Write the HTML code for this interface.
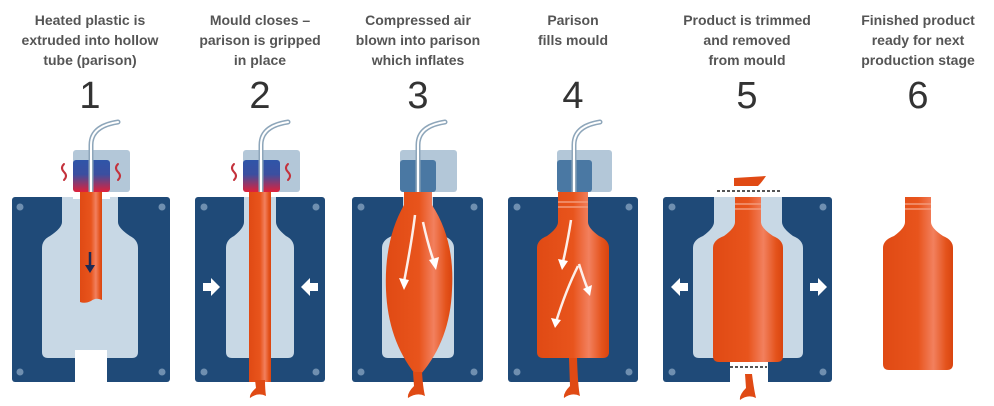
<!DOCTYPE html>
<html><head><meta charset="utf-8"><style>
html,body{margin:0;padding:0;background:#fff;}
svg{display:block;}
text{font-family:"Liberation Sans",sans-serif;fill:#555;}
.t{font-size:14px;font-weight:bold;text-anchor:middle;}
.n{font-size:38px;text-anchor:middle;fill:#333;}
</style></head><body>
<svg width="994" height="406" viewBox="0 0 994 406" xmlns="http://www.w3.org/2000/svg">
<defs>
<linearGradient id="or" x1="0" x2="1" y1="0" y2="0">
<stop offset="0" stop-color="#e04a14"/><stop offset="0.5" stop-color="#e8541c"/><stop offset="0.72" stop-color="#f2805e"/><stop offset="0.9" stop-color="#e4531c"/><stop offset="1" stop-color="#d9440f"/>
</linearGradient>
<linearGradient id="hd" x1="0" x2="0" y1="0" y2="1">
<stop offset="0" stop-color="#2f55a8"/><stop offset="0.45" stop-color="#3b4fa0"/><stop offset="1" stop-color="#e0203a"/>
</linearGradient>
<g id="dots"></g>
</defs>

<!-- titles -->
<g>
<text class="t" x="90" y="25">Heated plastic is</text>
<text class="t" x="90" y="45">extruded into hollow</text>
<text class="t" x="90" y="65">tube (parison)</text>
<text class="t" x="260" y="25">Mould closes –</text>
<text class="t" x="260" y="45">parison is gripped</text>
<text class="t" x="260" y="65">in place</text>
<text class="t" x="418" y="25">Compressed air</text>
<text class="t" x="418" y="45">blown into parison</text>
<text class="t" x="418" y="65">which inflates</text>
<text class="t" x="573" y="25">Parison</text>
<text class="t" x="573" y="45">fills mould</text>
<text class="t" x="747" y="25">Product is trimmed</text>
<text class="t" x="747" y="45">and removed</text>
<text class="t" x="747" y="65">from mould</text>
<text class="t" x="918" y="25">Finished product</text>
<text class="t" x="918" y="45">ready for next</text>
<text class="t" x="918" y="65">production stage</text>
<text class="n" x="90" y="108">1</text>
<text class="n" x="260" y="108">2</text>
<text class="n" x="418" y="108">3</text>
<text class="n" x="573" y="108">4</text>
<text class="n" x="747" y="108">5</text>
<text class="n" x="918" y="108">6</text>
</g>

<!-- nozzles: light boxes -->
<g fill="#b3c7d8">
<rect x="73" y="150" width="57" height="42" rx="3"/>
<rect x="243" y="150" width="57" height="42" rx="3"/>
<rect x="400" y="150" width="57" height="42" rx="3"/>
<rect x="557" y="150" width="55" height="42" rx="3"/>
</g>
<rect x="73" y="160" width="37" height="32" rx="3" fill="url(#hd)"/>
<rect x="243" y="160" width="37" height="32" rx="3" fill="url(#hd)"/>
<rect x="400" y="160" width="36" height="32" rx="3" fill="#4a78a3"/>
<rect x="557" y="160" width="35" height="32" rx="3" fill="#4a78a3"/>
<!-- tubes -->
<g fill="none" stroke-linecap="round">
<g stroke="#8ea6ba" stroke-width="5">
<path d="M91,192 L91,145 Q91,126 118,122"/>
<path d="M261,192 L261,145 Q261,126 288,122"/>
<path d="M418,192 L418,145 Q418,126 445,122"/>
<path d="M574,192 L574,145 Q574,126 600,122"/>
</g>
<g stroke="#fff" stroke-width="2">
<path d="M91,192 L91,145 Q91,126 118,122"/>
<path d="M261,192 L261,145 Q261,126 288,122"/>
<path d="M418,192 L418,145 Q418,126 445,122"/>
<path d="M574,192 L574,145 Q574,126 600,122"/>
</g>
<!-- heat squiggles -->
<g stroke="#c4323c" stroke-width="2">
<path d="M64,164 q-4,4 0,8 q4,4 0,8"/>
<path d="M118,164 q-4,4 0,8 q4,4 0,8"/>
<path d="M234,164 q-4,4 0,8 q4,4 0,8"/>
<path d="M288,164 q-4,4 0,8 q4,4 0,8"/>
</g>
</g>

<!-- moulds -->
<g fill="#1f4a78">
<rect x="12" y="197" width="158" height="185" rx="3"/>
<rect x="195" y="197" width="130" height="185" rx="3"/>
<rect x="352" y="197" width="131" height="185" rx="3"/>
<rect x="508" y="197" width="130" height="185" rx="3"/>
<rect x="663" y="197" width="169" height="185" rx="3"/>
</g>
<g fill="#c8d8e5">
<path d="M62,197 L62,222 Q62,228 50,236 Q42,240 42,248 L42,352 Q42,358 48,358 L132,358 Q138,358 138,352 L138,248 Q138,240 130,236 Q118,228 118,222 L118,197 Z"/>
<path d="M244,197 L244,222 Q244,228 234,236 Q226,240 226,248 L226,352 Q226,358 232,358 L288,358 Q294,358 294,352 L294,248 Q294,240 286,236 Q276,228 276,222 L276,197 Z"/>
<path d="M403,197 L403,222 Q403,228 392,236 Q382,240 382,248 L382,352 Q382,358 388,358 L448,358 Q454,358 454,352 L454,248 Q454,240 444,236 Q433,228 433,222 L433,197 Z"/>
<path d="M714,197 L714,222 Q714,228 703,236 Q693,240 693,248 L693,352 Q693,358 699,358 L797,358 Q803,358 803,352 L803,248 Q803,240 793,236 Q782,228 782,222 L782,197 Z"/>
</g>
<!-- mould gaps (white) -->
<rect x="75" y="350" width="32" height="34" fill="#fff"/>
<rect x="73" y="196" width="37" height="3" fill="#fff"/>
<rect x="730" y="358" width="38" height="26" fill="#fff"/>
<!-- corner dots -->
<g fill="#6f8fb0">
<circle cx="20" cy="207" r="3.5"/><circle cx="162" cy="207" r="3.5"/><circle cx="20" cy="372" r="3.5"/><circle cx="162" cy="372" r="3.5"/>
<circle cx="204" cy="207" r="3.5"/><circle cx="316" cy="207" r="3.5"/><circle cx="204" cy="372" r="3.5"/><circle cx="316" cy="372" r="3.5"/>
<circle cx="361" cy="207" r="3.5"/><circle cx="474" cy="207" r="3.5"/><circle cx="361" cy="372" r="3.5"/><circle cx="474" cy="372" r="3.5"/>
<circle cx="517" cy="207" r="3.5"/><circle cx="629" cy="207" r="3.5"/><circle cx="517" cy="372" r="3.5"/><circle cx="629" cy="372" r="3.5"/>
<circle cx="672" cy="207" r="3.5"/><circle cx="823" cy="207" r="3.5"/><circle cx="672" cy="372" r="3.5"/><circle cx="823" cy="372" r="3.5"/>
</g>

<!-- panel 1 parison -->
<path d="M80,192 L102,192 L102,300 Q96,297 91,301 Q85,304 80,302 Z" fill="url(#or)"/>
<path d="M90,252 L90,268" stroke="#1b2a55" stroke-width="2.5"/>
<path d="M85,265 L90,273 L95,265 Z" fill="#1b2a55"/>

<!-- panel 2 parison -->
<rect x="249" y="192" width="22" height="190" fill="url(#or)"/>
<path d="M255,380 L256,388 Q249,394 250,398 Q258,392 266,396 Q265,389 265,380 Z" fill="#e04a14"/>

<!-- panel 3 balloon -->
<path d="M404,192 L432,192 L432,205 Q455,240 452,290 Q450,340 421,374 L415,374 Q388,340 386,290 Q384,240 404,205 Z" fill="url(#or)"/>
<path d="M413,372 L414,386 Q407,393 408,398 Q417,392 425,396 Q423,388 422,372 Z" fill="#e04a14"/>

<!-- panel 4 filled bottle -->
<path d="M558,192 L588,192 L588,222 Q588,228 599,236 Q609,240 609,248 L609,352 Q609,358 603,358 L543,358 Q537,358 537,352 L537,248 Q537,240 547,236 Q558,228 558,222 Z" fill="url(#or)"/>
<g stroke="#f39a7a" stroke-width="1.5"><path d="M558,202 H588 M558,207 H588"/></g>
<path d="M569,358 L570,386 Q563,393 564,398 Q572,392 580,396 Q578,388 577,358 Z" fill="#e04a14"/>

<!-- panel 5 -->
<path d="M735,197 L735,222 Q735,228 724,236 Q713,240 713,248 L713,356 Q713,362 719,362 L777,362 Q783,362 783,356 L783,248 Q783,240 773,236 Q761,228 761,222 L761,197 Z" fill="url(#or)"/>
<g stroke="#f39a7a" stroke-width="1.5"><path d="M735,204 H761 M735,209 H761"/></g>
<path d="M734,178 L766,176 Q762,182 758,186 L734,186 Z" fill="#e04a14"/>
<path d="M717,191 H781" stroke="#555" stroke-width="2" stroke-dasharray="3,2"/>
<path d="M730,367 H767" stroke="#555" stroke-width="2" stroke-dasharray="3,2"/>
<path d="M745,374 L746,388 Q739,395 740,400 Q748,394 756,398 Q754,390 752,374 Z" fill="#e04a14"/>

<!-- panel 6 -->
<path d="M905,197 L905,222 Q905,228 894,236 Q883,240 883,248 L883,364 Q883,370 889,370 L947,370 Q953,370 953,364 L953,248 Q953,240 943,236 Q931,228 931,222 L931,197 Z" fill="url(#or)"/>
<g stroke="#f39a7a" stroke-width="1.5"><path d="M905,204 H931 M905,209 H931"/></g>

<!-- white arrows in panels 3 & 4 -->
<g stroke="#fff" stroke-width="2.5" fill="none" opacity="0.9">
<path d="M415,215 Q412,240 404,282"/>
<path d="M423,222 Q428,245 434,262"/>
<path d="M571,220 Q568,240 563,262"/>
<path d="M579,264 Q584,280 588,290"/>
<path d="M578,266 Q566,290 556,322"/>
</g>
<g fill="#fff">
<path d="M399,278 L404,290 L409,280 Z"/>
<path d="M429,260 L436,270 L439,257 Z"/>
<path d="M558,259 L562,270 L568,261 Z"/>
<path d="M583,289 L590,296 L592,285 Z"/>
<path d="M551,318 L555,328 L561,320 Z"/>
</g>

<!-- side arrows -->
<g fill="#fff">
<path d="M203,283 H211 V278 L220,287 L211,296 V291 H203 Z"/>
<path d="M318,283 H310 V278 L301,287 L310,296 V291 H318 Z"/>
<path d="M688,283 H680 V278 L671,287 L680,296 V291 H688 Z"/>
<path d="M810,283 H818 V278 L827,287 L818,296 V291 H810 Z"/>
</g>
</svg>
</body></html>
